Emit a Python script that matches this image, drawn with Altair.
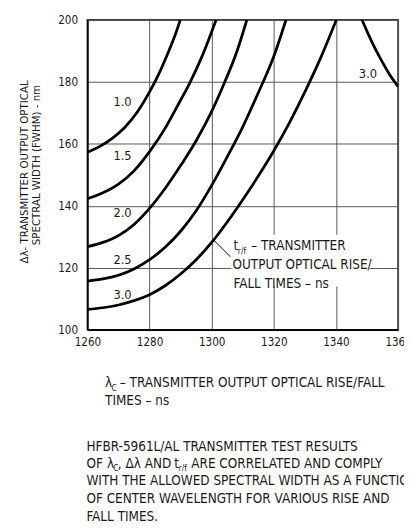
import altair as alt
import pandas as pd

FONT = "'Liberation Sans Narrow', 'DejaVu Sans Condensed', 'Roboto Condensed', Arial, sans-serif"
FS = 13.7
TICK_FS = 11.8
YT_FS = 11.6
LAB_FS = 13
SUB = 8.5
INK = "#1a1a1a"

# ---- data ----
x_ticks = [1260, 1280, 1300, 1320, 1340, 1360]
y_ticks = [100, 120, 140, 160, 180, 200]

c10_x = [1260, 1264, 1268, 1272, 1276, 1280, 1283, 1286, 1288, 1289.9]
c10_y = [157.3, 159.2, 161.8, 165.3, 170.2, 176.8, 182.6, 189.5, 194.5, 200]

c15_x = [1260, 1265, 1270, 1275, 1280, 1285, 1289, 1293, 1297, 1301.4]
c15_y = [142.3, 144.2, 147.0, 151.3, 157.5, 165.0, 172.3, 179.8, 188.5, 200]

c20_x = [1260, 1265, 1270, 1275, 1280, 1285, 1290, 1295, 1300, 1304, 1308, 1311.3]
c20_y = [126.8, 128.2, 130.4, 134.0, 139.2, 145.6, 153.0, 161.0, 170.5, 179.5, 189.5, 200]

c25_x = [1260, 1265, 1270, 1275, 1280, 1285, 1290, 1295, 1300, 1305, 1310, 1315, 1320, 1323.9]
c25_y = [115.7, 116.4, 117.6, 119.6, 122.6, 126.6, 131.8, 138.4, 146.6, 155.8, 165.5, 176.5, 188.3, 200]

c30_x = [1260, 1265, 1270, 1275, 1280, 1285, 1290, 1295, 1300, 1305, 1310, 1315, 1320, 1325, 1330, 1335, 1340.1]
c30_y = [106.6, 107.1, 108.0, 109.4, 111.3, 114.2, 118.0, 122.6, 128.2, 134.8, 142.0, 149.6, 157.8, 166.8, 176.8, 187.6, 200]

c30b_x = [1348.4, 1350.5, 1352.5, 1354.5, 1357, 1360]
c30b_y = [200, 195.2, 191.0, 187.2, 182.8, 178.5]

curve_ids = ["1.0", "1.5", "2.0", "2.5", "3.0", "3.0b"]
curve_xs = [c10_x, c15_x, c20_x, c25_x, c30_x, c30b_x]
curve_ys = [c10_y, c15_y, c20_y, c25_y, c30_y, c30b_y]

label_text = ["1.0", "1.5", "2.0", "2.5", "3.0", "3.0"]
label_x = [1271.3, 1271.3, 1271.3, 1271.3, 1271.3, 1350.3]
label_y = [173.5, 156.1, 137.6, 122.4, 111.3, 182.5]

rows = []
for cid, xs, ys in zip(curve_ids, curve_xs, curve_ys):
    for i, (xv, yv) in enumerate(zip(xs, ys)):
        rows.append({"curve": cid, "wl": xv, "fwhm": yv, "ord": i})
df = pd.DataFrame(rows)
lab = pd.DataFrame({"t": label_text, "wl": label_x, "fwhm": label_y})
one = pd.DataFrame({"a": [0]})

W, H = 317, 316
xscale = alt.Scale(domain=[1260, 1360], nice=False, zero=False)
yscale = alt.Scale(domain=[100, 200], nice=False, zero=False)

xaxis = alt.Axis(values=x_ticks, title=None, grid=True, gridColor="#555", gridWidth=1,
                 ticks=False, labelPadding=7, labelFont=FONT, labelFontSize=TICK_FS,
                 labelColor=INK, domainColor="black", domainWidth=1.5, format="d",
                 labelFlush=False, labelOverlap=False)
yaxis = alt.Axis(values=y_ticks, title=None, grid=True, gridColor="#555", gridWidth=1,
                 ticks=False, labelPadding=10, labelFont=FONT, labelFontSize=TICK_FS,
                 labelColor=INK, domainColor="black", domainWidth=1.5, format="d",
                 labelFlush=False, labelOverlap=False)

whitebox = alt.Chart(one).mark_rect(color="white").encode(
    x=alt.value(147), x2=alt.value(288), y=alt.value(219), y2=alt.value(272))

lines = alt.Chart(df).mark_line(color="black", strokeWidth=2.8, interpolate="monotone",
                                clip=True).encode(
    x=alt.X("wl:Q", scale=xscale, axis=xaxis),
    y=alt.Y("fwhm:Q", scale=yscale, axis=yaxis),
    detail="curve:N",
    order="ord:Q",
)

labels = alt.Chart(lab).mark_text(font=FONT, fontSize=LAB_FS, color=INK, align="center",
                                  baseline="middle").encode(
    x=alt.X("wl:Q", scale=xscale), y=alt.Y("fwhm:Q", scale=yscale), text="t:N")

leader = alt.Chart(one).mark_rule(color="black", strokeWidth=1).encode(
    x=alt.value(129.3), y=alt.value(225), x2=alt.value(146), y2=alt.value(241.7))


def txt(s, x, y, size=FS, angle=0, align="left"):
    return alt.Chart(one).mark_text(text=s, font=FONT, fontSize=size, color=INK,
                                    align=align, baseline="middle", angle=angle).encode(
        x=alt.value(x), y=alt.value(y))


texts = [
    # annotation inside the plot
    txt("t", 149, 231), txt("r/f", 153.5, 236, SUB), txt("– TRANSMITTER", 167, 231),
    txt("OUTPUT OPTICAL RISE/", 148, 250),
    txt("FALL TIMES – ns", 149, 269),
    # y axis title
    txt("Δλ- TRANSMITTER OUTPUT OPTICAL", -64, 155, YT_FS, angle=270, align="center"),
    txt("SPECTRAL WIDTH (FWHM)  - nm", -51, 148, YT_FS, angle=270, align="center"),
    # x axis title
    txt("λ", 18, 370.7), txt("C", 24.5, 375, SUB),
    txt("– TRANSMITTER OUTPUT OPTICAL RISE/FALL", 33, 370.7),
    txt("TIMES – ns", 18, 388.3),
    # caption
    txt("HFBR-5961L/AL TRANSMITTER TEST RESULTS", -1, 436),
    txt("OF", -1, 453.3), txt("λ", 20, 453.3), txt("C", 26.5, 457.5, SUB),
    txt(", Δλ AND", 31, 453.3), txt("t", 88.5, 453.3), txt("r/f", 93, 457.5, SUB),
    txt("ARE CORRELATED AND  COMPLY", 106, 453.3),
    txt("WITH THE ALLOWED SPECTRAL WIDTH AS A FUNCTION", -1, 470.7),
    txt("OF CENTER WAVELENGTH FOR VARIOUS RISE AND", -1, 489),
    txt("FALL TIMES.", -1, 506.7),
]

chart = alt.layer(whitebox, lines, labels, leader, *texts).properties(
    width=W, height=H,
    autosize=alt.AutoSizeParams(type="none"),
    padding={"left": 81, "top": 7, "right": 6, "bottom": 196},
    background="white",
).configure_view(stroke="black", strokeWidth=1.5)

chart.save("out.html", embed_options={"renderer": "svg", "actions": False})
